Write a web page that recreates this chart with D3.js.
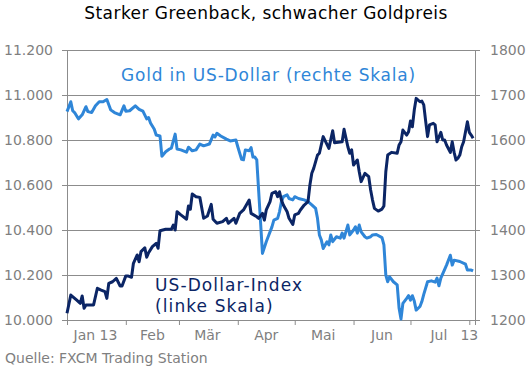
<!DOCTYPE html>
<html>
<head>
<meta charset="utf-8">
<script src="https://cdn.jsdelivr.net/npm/d3@7"></script>
<style>
  body { margin: 0; background: #fff; }
  svg text { font-family: "DejaVu Sans", Verdana, sans-serif; }
</style>
</head>
<body>
<div id="chart"></div>
<script>
// US-Dollar-Index (left scale), FXCM
var usd = [
  ["2013-01-01",10030],["2013-01-03",10111],["2013-01-06",10089],["2013-01-08",10074],["2013-01-09",10107],
  ["2013-01-10",10052],["2013-01-11",10067],["2013-01-15",10067],["2013-01-17",10141],["2013-01-19",10133],
  ["2013-01-21",10126],["2013-01-22",10096],["2013-01-23",10163],["2013-01-25",10170],["2013-01-27",10185],
  ["2013-01-29",10151],["2013-01-30",10151],["2013-02-01",10196],["2013-02-02",10196],["2013-02-04",10190],
  ["2013-02-05",10252],["2013-02-07",10289],["2013-02-08",10259],["2013-02-09",10304],["2013-02-11",10321],
  ["2013-02-12",10279],["2013-02-13",10299],["2013-02-15",10326],["2013-02-17",10341],["2013-02-18",10319],
  ["2013-02-19",10397],["2013-02-22",10403],["2013-02-25",10403],["2013-02-26",10422],["2013-02-27",10400],
  ["2013-02-28",10481],["2013-03-02",10467],["2013-03-05",10448],["2013-03-06",10507],["2013-03-07",10492],
  ["2013-03-08",10560],["2013-03-10",10548],["2013-03-12",10545],["2013-03-14",10452],["2013-03-16",10462],
  ["2013-03-18",10514],["2013-03-19",10448],["2013-03-21",10430],["2013-03-24",10437],["2013-03-26",10452],
  ["2013-03-27",10430],["2013-03-30",10452],["2013-03-31",10430],["2013-04-02",10474],["2013-04-04",10489],
  ["2013-04-07",10533],["2013-04-08",10474],["2013-04-11",10459],["2013-04-12",10452],["2013-04-14",10474],
  ["2013-04-15",10444],["2013-04-16",10489],["2013-04-18",10526],["2013-04-19",10563],["2013-04-21",10570],
  ["2013-04-22",10548],["2013-04-23",10570],["2013-04-24",10533],["2013-04-25",10511],["2013-04-27",10481],
  ["2013-04-28",10452],["2013-04-30",10425],["2013-05-01",10467],["2013-05-03",10474],["2013-05-04",10489],
  ["2013-05-06",10511],["2013-05-08",10526],["2013-05-09",10600],["2013-05-10",10652],["2013-05-11",10674],
  ["2013-05-13",10733],["2013-05-14",10741],["2013-05-15",10778],["2013-05-16",10815],["2013-05-19",10763],
  ["2013-05-21",10841],["2013-05-22",10788],["2013-05-26",10792],["2013-05-27",10848],["2013-05-29",10770],
  ["2013-05-30",10741],["2013-05-31",10756],["2013-06-01",10689],["2013-06-03",10711],["2013-06-04",10659],
  ["2013-06-05",10615],["2013-06-07",10652],["2013-06-09",10637],["2013-06-10",10578],["2013-06-11",10533],
  ["2013-06-12",10496],["2013-06-14",10484],["2013-06-16",10493],["2013-06-17",10507],["2013-06-18",10659],
  ["2013-06-19",10733],["2013-06-21",10745],["2013-06-24",10741],["2013-06-25",10778],["2013-06-26",10792],
  ["2013-06-27",10844],["2013-06-29",10822],["2013-06-30",10837],["2013-07-01",10884],["2013-07-02",10859],
  ["2013-07-03",10933],["2013-07-04",10985],["2013-07-06",10970],["2013-07-07",10973],["2013-07-08",10956],
  ["2013-07-09",10884],["2013-07-10",10815],["2013-07-11",10867],["2013-07-13",10874],["2013-07-14",10867],
  ["2013-07-15",10792],["2013-07-17",10834],["2013-07-18",10800],["2013-07-19",10800],["2013-07-20",10778],
  ["2013-07-22",10745],["2013-07-23",10792],["2013-07-24",10745],["2013-07-25",10711],["2013-07-26",10719],
  ["2013-07-27",10733],["2013-07-28",10770],["2013-07-29",10792],["2013-07-31",10881],["2013-08-01",10834],
  ["2013-08-02",10822],["2013-08-03",10808]
];

// Gold in US-Dollar (right scale)
var gold = [
  ["2013-01-01",1663],["2013-01-03",1685],["2013-01-04",1665],["2013-01-05",1661],["2013-01-07",1647],
  ["2013-01-09",1656],["2013-01-11",1674],["2013-01-12",1663],["2013-01-14",1661],["2013-01-16",1676],
  ["2013-01-18",1685],["2013-01-20",1685],["2013-01-22",1690],["2013-01-24",1667],["2013-01-26",1661],
  ["2013-01-29",1656],["2013-01-31",1676],["2013-02-01",1664],["2013-02-03",1665],["2013-02-06",1676],
  ["2013-02-08",1668],["2013-02-10",1664],["2013-02-12",1647],["2013-02-13",1650],["2013-02-14",1638],
  ["2013-02-16",1624],["2013-02-17",1611],["2013-02-19",1609],["2013-02-20",1564],["2013-02-22",1574],
  ["2013-02-24",1580],["2013-02-25",1582],["2013-02-27",1613],["2013-02-28",1580],["2013-03-02",1578],
  ["2013-03-05",1573],["2013-03-06",1584],["2013-03-08",1576],["2013-03-10",1578],["2013-03-12",1591],
  ["2013-03-14",1587],["2013-03-17",1591],["2013-03-19",1611],["2013-03-20",1607],["2013-03-21",1615],
  ["2013-03-23",1609],["2013-03-26",1602],["2013-03-28",1598],["2013-03-31",1600],["2013-04-01",1585],
  ["2013-04-03",1557],["2013-04-04",1556],["2013-04-05",1578],["2013-04-07",1576],["2013-04-08",1583],
  ["2013-04-09",1562],["2013-04-10",1562],["2013-04-11",1556],["2013-04-14",1348],["2013-04-16",1374],
  ["2013-04-17",1385],["2013-04-19",1407],["2013-04-20",1422],["2013-04-22",1426],["2013-04-23",1441],
  ["2013-04-24",1463],["2013-04-25",1474],["2013-04-27",1478],["2013-04-28",1470],["2013-04-30",1467],
  ["2013-05-01",1474],["2013-05-03",1470],["2013-05-04",1469],["2013-05-06",1467],["2013-05-08",1463],
  ["2013-05-10",1456],["2013-05-12",1448],["2013-05-13",1426],["2013-05-14",1389],["2013-05-15",1378],
  ["2013-05-16",1359],["2013-05-18",1374],["2013-05-19",1367],["2013-05-20",1389],["2013-05-21",1374],
  ["2013-05-23",1385],["2013-05-25",1382],["2013-05-26",1393],["2013-05-27",1382],["2013-05-29",1411],
  ["2013-05-30",1389],["2013-06-01",1400],["2013-06-02",1407],["2013-06-03",1393],["2013-06-04",1411],
  ["2013-06-05",1396],["2013-06-07",1385],["2013-06-08",1382],["2013-06-10",1385],["2013-06-11",1389],
  ["2013-06-13",1390],["2013-06-16",1383],["2013-06-17",1367],["2013-06-18",1300],["2013-06-19",1285],
  ["2013-06-20",1296],["2013-06-22",1285],["2013-06-24",1278],["2013-06-25",1226],["2013-06-26",1202],
  ["2013-06-27",1237],["2013-06-29",1248],["2013-06-30",1254],["2013-07-01",1244],["2013-07-02",1254],
  ["2013-07-03",1242],["2013-07-04",1222],["2013-07-06",1230],["2013-07-07",1241],["2013-07-08",1257],
  ["2013-07-10",1285],["2013-07-12",1287],["2013-07-14",1284],["2013-07-15",1293],["2013-07-16",1276],
  ["2013-07-17",1293],["2013-07-20",1322],["2013-07-22",1344],["2013-07-23",1322],["2013-07-24",1333],
  ["2013-07-27",1330],["2013-07-30",1324],["2013-07-31",1311],["2013-08-02",1311],["2013-08-03",1309]
];

var leftTicks = [10000, 10200, 10400, 10600, 10800, 11000, 11200];
var rightTicks = [1200, 1300, 1400, 1500, 1600, 1700, 1800];
var monthStarts = ["2013-01-01","2013-02-01","2013-03-01","2013-04-01","2013-05-01","2013-06-01","2013-07-01","2013-08-01"];
var monthLabels = [["2013-01-16","Jan 13"],["2013-02-15","Feb"],["2013-03-16","Mär"],["2013-04-16","Apr"],
                   ["2013-05-16","Mai"],["2013-06-16","Jun"],["2013-07-16","Jul"],["2013-08-01","13"]];

var W = 530, H = 375;
var margin = {left: 67, right: 475, top: 50, bottom: 320};
var gridColor = "#8c8c8c", labelColor = "#7f7f7f";
var goldColor = "#2f86d8", usdColor = "#0b2565";

var parse = d3.timeParse("%Y-%m-%d");
var de = d3.formatLocale({decimal: ",", thousands: ".", grouping: [3], currency: ["", " €"]});

var svg = d3.select("#chart").append("svg")
    .attr("width", W)
    .attr("height", H);

var x = d3.scaleTime()
    .domain([parse("2013-01-01"), parse("2013-08-04")])
    .range([margin.left, margin.right]);
var yL = d3.scaleLinear().domain([10000, 11200]).range([margin.bottom, margin.top]);
var yR = d3.scaleLinear().domain([1200, 1800]).range([margin.bottom, margin.top]);

// title
svg.append("text")
    .attr("x", W / 2 + 1)
    .attr("y", 19)
    .attr("text-anchor", "middle")
    .style("font-size", "17px")
    .style("letter-spacing", "0.45px")
    .attr("fill", "#000")
    .text("Starker Greenback, schwacher Goldpreis");

// gridlines
svg.append("g")
    .attr("transform", "translate(" + margin.left + ",0)")
    .call(d3.axisLeft(yL).tickValues(leftTicks).tickSize(-(margin.right - margin.left)).tickFormat(""))
    .call(function(g) { g.select(".domain").remove(); })
    .selectAll("line").attr("stroke", gridColor);

// left axis
var gl = svg.append("g")
    .attr("transform", "translate(" + margin.left + ",0)")
    .call(d3.axisLeft(yL).tickValues(leftTicks).tickSize(5).tickPadding(9).tickFormat(de.format(",")));

// right axis
var gr = svg.append("g")
    .attr("transform", "translate(" + margin.right + ",0)")
    .call(d3.axisRight(yR).tickValues(rightTicks).tickSize(5).tickPadding(10).tickFormat(d3.format("d")));

// bottom axis
var gb = svg.append("g")
    .attr("transform", "translate(0," + margin.bottom + ")")
    .call(d3.axisBottom(x).tickValues(monthStarts.map(parse)).tickSize(5).tickFormat(""));

[gl, gr, gb].forEach(function(g) {
  g.select(".domain").attr("stroke", gridColor);
  g.selectAll(".tick line").attr("stroke", gridColor);
  g.selectAll("text")
    .attr("fill", labelColor)
    .style("font-size", "14px")
    .style("font-family", "DejaVu Sans, Verdana, sans-serif");
});

svg.append("g").selectAll("text")
    .data(monthLabels)
  .enter().append("text")
    .attr("x", function(d) { return x(parse(d[0])); })
    .attr("y", 340)
    .attr("text-anchor", "middle")
    .attr("fill", labelColor)
    .style("font-size", "14px")
    .text(function(d) { return d[1]; });

// lines
var lineL = d3.line()
    .x(function(d) { return x(parse(d[0])); })
    .y(function(d) { return yL(d[1]); });
var lineR = d3.line()
    .x(function(d) { return x(parse(d[0])); })
    .y(function(d) { return yR(d[1]); });

svg.append("path")
    .attr("d", lineR(gold))
    .attr("fill", "none")
    .attr("stroke", goldColor)
    .attr("stroke-width", 3)
    .attr("stroke-linejoin", "round");

svg.append("path")
    .attr("d", lineL(usd))
    .attr("fill", "none")
    .attr("stroke", usdColor)
    .attr("stroke-width", 3)
    .attr("stroke-linejoin", "round");

// series labels
svg.append("text")
    .attr("x", 121)
    .attr("y", 81)
    .attr("fill", goldColor)
    .style("font-size", "17px")
    .style("letter-spacing", "0.8px")
    .text("Gold in US-Dollar (rechte Skala)");

var usdLabel = svg.append("text")
    .attr("fill", usdColor)
    .style("font-size", "17px")
    .style("letter-spacing", "1.1px");
usdLabel.append("tspan").attr("x", 155).attr("y", 291).text("US-Dollar-Index");
usdLabel.append("tspan").attr("x", 155).attr("y", 312).text("(linke Skala)");

// source
svg.append("text")
    .attr("x", 5)
    .attr("y", 363)
    .attr("fill", labelColor)
    .style("font-size", "14px")
    .text("Quelle:  FXCM Trading Station");
</script>
</body>
</html>
